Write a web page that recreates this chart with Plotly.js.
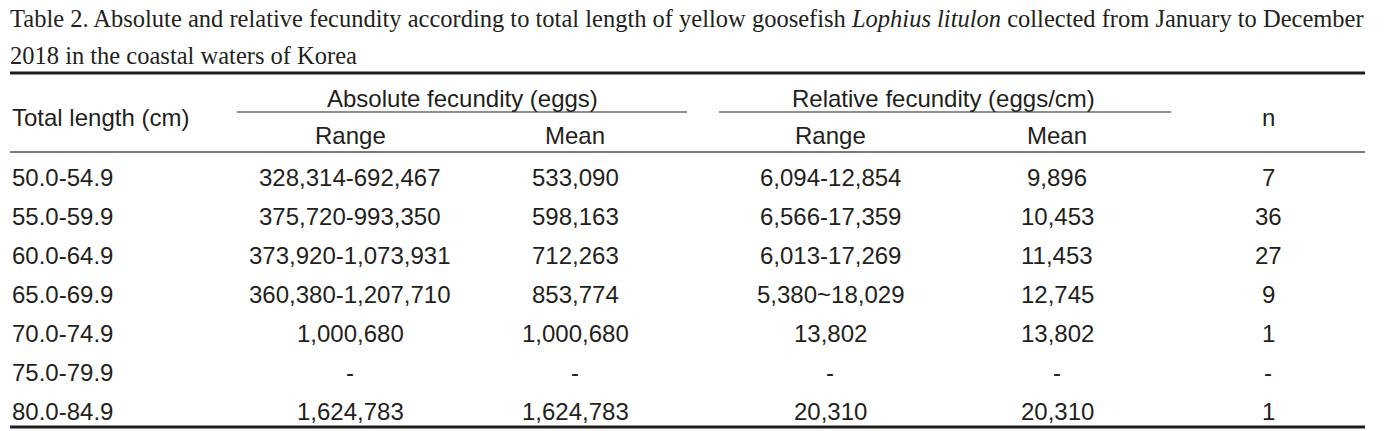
<!DOCTYPE html>
<html>
<head>
<meta charset="utf-8">
<script src="https://cdn.plot.ly/plotly-3.0.1.min.js"></script>
<style>html,body{margin:0;padding:0;background:#fff;}#chart{width:1384px;height:431px;}</style>
</head>
<body>
<div id="chart"></div>
<script>
// ---- data ----
const titleLines = [
  "Table 2. Absolute and relative fecundity according to total length of yellow goosefish <i>Lophius litulon</i> collected from January to December",
  "2018 in the coastal waters of Korea"
];
const groupHeaders = ["Absolute fecundity (eggs)", "Relative fecundity (eggs/cm)"];
const subHeaders = ["Range", "Mean", "Range", "Mean"];
const firstHeader = "Total length (cm)";
const lastHeader = "n";
const lengthClasses = ["50.0-54.9","55.0-59.9","60.0-64.9","65.0-69.9","70.0-74.9","75.0-79.9","80.0-84.9"];
const absRange = ["328,314-692,467","375,720-993,350","373,920-1,073,931","360,380-1,207,710","1,000,680","-","1,624,783"];
const absMean  = ["533,090","598,163","712,263","853,774","1,000,680","-","1,624,783"];
const relRange = ["6,094-12,854","6,566-17,359","6,013-17,269","5,380~18,029","13,802","-","20,310"];
const relMean  = ["9,896","10,453","11,453","12,745","13,802","-","20,310"];
const nFish    = ["7","36","27","9","1","-","1"];

// ---- layout geometry (pixel space) ----
const W = 1384, H = 431;
const left = 10, right = 1365;
const colX = [10, 350, 575, 830, 1057, 1268];
const rowY0 = 177, rowStep = 39;
const ink = "#231f20";
const sans = "Liberation Sans, Arial, Helvetica, sans-serif";
const serif = "Liberation Serif, Times New Roman, serif";
const bodySize = 24;

const ann = [];
function txt(x, y, t, opts) {
  ann.push(Object.assign({
    x: x, y: y, xref: "x", yref: "y", text: t, showarrow: false,
    xanchor: "center", yanchor: "middle",
    font: {family: sans, size: bodySize, color: ink}
  }, opts || {}));
}
// title
txt(left - 2, 18, titleLines[0], {xanchor: "left", font: {family: serif, size: 24.5, color: ink}});
txt(left - 2, 55, titleLines[1], {xanchor: "left", font: {family: serif, size: 24.5, color: ink}});
// headers
txt(colX[0], 117, firstHeader, {xanchor: "left"});
txt((colX[1] + colX[2]) / 2, 98, groupHeaders[0]);
txt((colX[3] + colX[4]) / 2, 98, groupHeaders[1]);
subHeaders.forEach((s, i) => txt(colX[i + 1], 135, s));
txt(colX[5], 117, lastHeader);
// body
const cols = [lengthClasses, absRange, absMean, relRange, relMean, nFish];
cols.forEach((col, c) => {
  col.forEach((v, r) => {
    txt(colX[c], rowY0 + r * rowStep, v, c === 0 ? {xanchor: "left"} : {});
  });
});

const shapes = [
  {type: "line", xref: "x", yref: "y", x0: left, x1: right, y0: 73, y1: 73, line: {color: "#1e1e1e", width: 3}},
  {type: "line", xref: "x", yref: "y", x0: 237, x1: 687, y0: 112, y1: 112, line: {color: ink, width: 1.2}},
  {type: "line", xref: "x", yref: "y", x0: 719, x1: 1171, y0: 112, y1: 112, line: {color: ink, width: 1.2}},
  {type: "line", xref: "x", yref: "y", x0: left, x1: right, y0: 152, y1: 152, line: {color: "#7a7a7a", width: 2}},
  {type: "line", xref: "x", yref: "y", x0: left, x1: right, y0: 427, y1: 427, line: {color: "#1e1e1e", width: 3}}
];

const layout = {
  width: W, height: H,
  margin: {l: 0, r: 0, t: 0, b: 0, pad: 0},
  paper_bgcolor: "#ffffff", plot_bgcolor: "#ffffff",
  xaxis: {range: [0, W], visible: false, fixedrange: true},
  yaxis: {range: [H, 0], visible: false, fixedrange: true},
  showlegend: false,
  annotations: ann,
  shapes: shapes
};
Plotly.newPlot("chart", [{x: [], y: [], type: "scatter", mode: "markers", hoverinfo: "skip"}], layout, {staticPlot: true, displayModeBar: false});
</script>
</body>
</html>
